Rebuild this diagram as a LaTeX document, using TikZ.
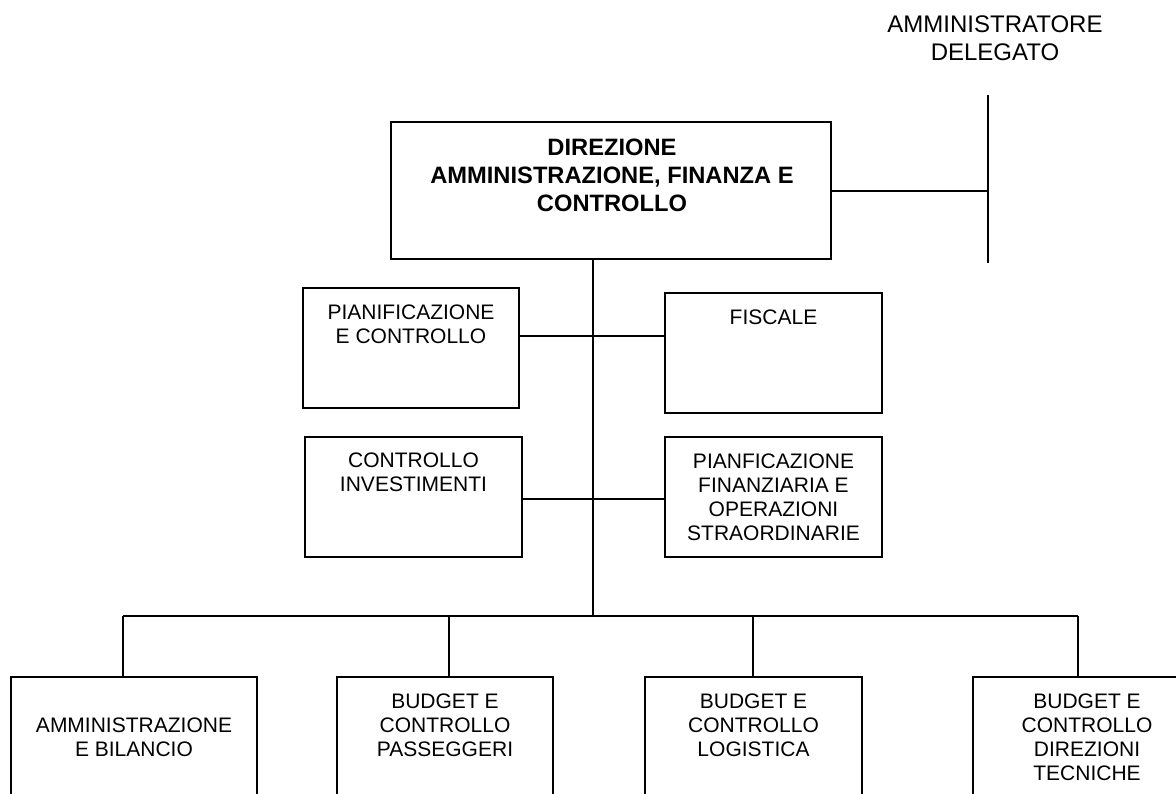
\documentclass[tikz,border=0pt]{standalone}
\usepackage{fontspec}
\setmainfont{Liberation Sans}
\begin{document}
\begin{tikzpicture}[x=1pt,y=-1pt,
  box/.style={draw, line width=1.5pt, rectangle, inner sep=0pt, fill=white},
  lbl/.style={align=center, inner sep=0pt, font=\fontsize{21}{24}\selectfont},
  toplbl/.style={align=center, inner sep=0pt, font=\fontsize{24}{28}\selectfont},
  mainlbl/.style={align=center, inner sep=0pt, font=\fontsize{23.7}{28}\selectfont\bfseries},
  conn/.style={line width=1.5pt}]
\useasboundingbox (0,0) rectangle (1176,793);
\clip (0,0) rectangle (1176,793);
\fill[white] (0,0) rectangle (1176,793);

% boxes
\node[box, minimum width=440pt, minimum height=137pt] (main) at (611,190.5) {};
\node[box, minimum width=216pt, minimum height=120pt] (pc) at (411,348) {};
\node[box, minimum width=217pt, minimum height=120pt] (fis) at (773.5,353) {};
\node[box, minimum width=217pt, minimum height=120pt] (ci) at (413.5,497) {};
\node[box, minimum width=217pt, minimum height=120pt] (pf) at (773.5,497) {};
\node[box, minimum width=246pt, minimum height=140pt] (ab) at (134,747) {};
\node[box, minimum width=216pt, minimum height=140pt] (bp) at (445,747) {};
\node[box, minimum width=217pt, minimum height=140pt] (bl) at (753.5,747) {};
\node[box, minimum width=228pt, minimum height=140pt] (bd) at (1087,747) {};

% texts
\node[toplbl] (tad) at (995,38) {AMMINISTRATORE\\DELEGATO};
\node[mainlbl] (tmain) at (612,175) {DIREZIONE\\AMMINISTRAZIONE, FINANZA E\\CONTROLLO};
\node[lbl] (tpc) at (411,324) {PIANIFICAZIONE\\E CONTROLLO};
\node[lbl] (tfis) at (773.5,317) {FISCALE};
\node[lbl] (tci) at (413.5,472) {CONTROLLO\\INVESTIMENTI};
\node[lbl] (tpf) at (773.5,497.5) {PIANFICAZIONE\\FINANZIARIA E\\OPERAZIONI\\STRAORDINARIE};
\node[lbl] (tab) at (134,737) {AMMINISTRAZIONE\\E BILANCIO};
\node[lbl] (tbp) at (445,725) {BUDGET E\\CONTROLLO\\PASSEGGERI};
\node[lbl] (tbl) at (753.5,725) {BUDGET E\\CONTROLLO\\LOGISTICA};
\node[lbl] (tbd) at (1087,737) {BUDGET E\\CONTROLLO\\DIREZIONI\\TECNICHE};

% coordinates
\coordinate (adtop) at (988,95);
\coordinate (adbot) at (988,263);
\coordinate (adj) at (988,191);
\coordinate (trunk) at (593,616);
\coordinate (r1) at (0,336);
\coordinate (r2) at (0,499);
\coordinate (d1) at (123,616);
\coordinate (d2) at (449,616);
\coordinate (d3) at (753,616);
\coordinate (d4) at (1078,616);

% connectors
\draw[conn] (adtop) -- (adbot);
\draw[conn] (main.east |- adj) -- (adj);
\draw[conn] (main.south -| trunk) -- (trunk);
\draw[conn] (pc.east |- r1) -- (fis.west |- r1);
\draw[conn] (ci.east |- r2) -- (pf.west |- r2);
\draw[conn] (d1) -- (d4);
\draw[conn] (d1) -- (d1 |- ab.north);
\draw[conn] (d2) -- (d2 |- bp.north);
\draw[conn] (d3) -- (d3 |- bl.north);
\draw[conn] (d4) -- (d4 |- bd.north);
\end{tikzpicture}
\end{document}
